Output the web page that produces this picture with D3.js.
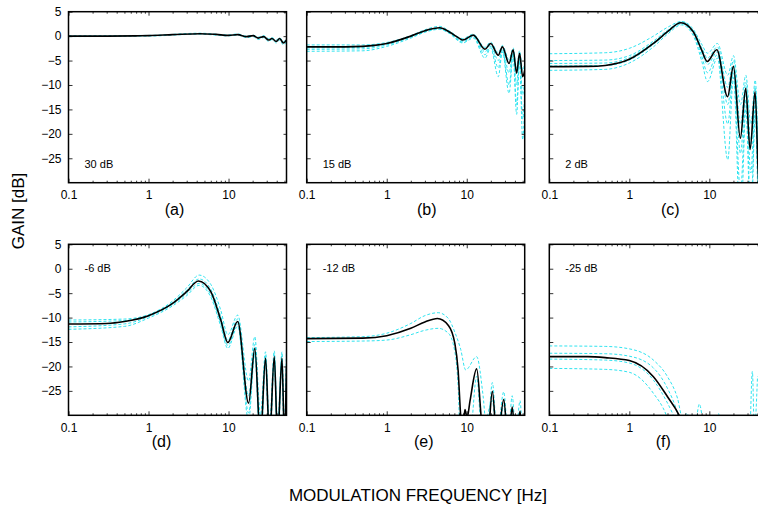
<!DOCTYPE html>
<html lang="en">
<head>
<meta charset="UTF-8">
<title>Modulation transfer gain</title>
<script src="https://cdn.jsdelivr.net/npm/d3@7"></script>
<style>
  body { margin: 0; background: #fff; }
  svg text { font-family: "Liberation Sans", Arial, sans-serif; fill: #000; }
</style>
</head>
<body>
<script>
// panel texts
var panelLabels = ["(a)", "(b)", "(c)", "(d)", "(e)", "(f)"];
var snrLabels = ["30 dB", "15 dB", "2 dB", "-6 dB", "-12 dB", "-25 dB"];
var yTicks = [5, 0, -5, -10, -15, -20, -25];
var xTicks = [0.1, 1, 10];

// black curve (mean) for each panel: [freq Hz, gain dB]
var meanA = [[0.1,0],[0.3,0],[0.7,0.05],[1,0.1],[2,0.3],[4.4,0.5],[7,0.35],[10,0.15],[13,0.3],[16.8,-0.1],[20.3,0.1],[23.5,-0.4],[27.5,-0.1],[31.7,-0.8],[34.8,-0.5],[39.5,-1.1],[43.5,-0.5],[48.5,-1.4],[53,-0.8]];
var meanB = [[0.1,-2.2],[0.3,-2.2],[0.5,-2.1],[0.7,-1.9],[1,-1.5],[2,0],[3,1.1],[4.6,1.7],[6,0.9],[8,-0.4],[8.9,-0.8],[12.1,0.2],[16.9,-2.7],[19.9,-1.5],[24.8,-3.9],[27.9,-2.2],[33.8,-5.6],[38,-2.8],[42,-7.6],[45.7,-3.5],[50,-8.3],[53,-7]];
var meanC = [[0.1,-6.25],[0.3,-6.2],[0.5,-6.0],[1,-4.75],[2,-1.5],[3,0.9],[4.4,2.75],[6.3,0.9],[8,-2.8],[9.4,-5.2],[12.4,-2.8],[16.9,-12.4],[20,-6.2],[24.4,-20.9],[28.5,-10.7],[32.3,-23.2],[37.3,-11.4],[42,-32],[46,-14],[50,-35],[53,-20]];
var meanD = [[0.1,-11.3],[0.3,-11.2],[0.5,-10.8],[1,-9.6],[2,-7.1],[3,-4.7],[4.2,-2.5],[6,-4.7],[8,-10.5],[9.8,-15.1],[13,-10.8],[17.8,-27.5],[21.3,-16.3],[25,-35],[29,-18.3],[32.5,-35],[37.3,-18],[41,-35],[46.5,-18.3],[50,-35],[53,-20]];
var meanE = [[0.1,-14.3],[0.5,-14.2],[1,-13.7],[2,-12.2],[3,-10.9],[4.3,-10.2],[5.9,-11.6],[7.1,-15.3],[7.8,-20.8],[8.4,-30],[8.9,-33],[9.5,-28.8],[10.1,-30.5],[11,-27],[13.3,-20.5],[15.7,-33],[18,-36],[20.9,-25.1],[24,-36],[29,-26.8],[33,-36],[37,-28.3],[41,-36],[46.4,-29.2],[50,-36],[53,-32]];
var meanF = [[0.1,-18],[0.3,-18],[0.5,-18.2],[1,-18.8],[2,-22.1],[3,-26.2],[4.2,-30],[5,-33]];

// cyan dashed curves (individual runs) for each panel
var runsA = [
  [[0.1,0.1],[1,0.15],[4.4,0.6],[10,0.25],[13,0.45],[16.8,0],[20.3,0.2],[23.5,-0.2],[27.5,0.1],[31.7,-0.5],[34.8,-0.3],[39.5,-0.8],[43.5,-0.3],[48.5,-1.1],[53,-0.6]],
  [[0.1,-0.1],[1,0],[4.4,0.4],[10,0.05],[13,0.2],[16.8,-0.3],[20.3,-0.1],[23.5,-0.7],[27.5,-0.3],[31.7,-1.1],[34.8,-0.7],[39.5,-1.4],[43.5,-0.8],[48.5,-1.8],[53,-1.1]]
];
var runsB = [
  [[0.1,-1.8],[0.5,-1.8],[1,-1.3],[2,0.1],[3,1.3],[4.6,2.0],[6,1.1],[8.9,-0.5],[12.1,0.4],[16.9,-2.3],[19.9,-1.2],[24.8,-3.4],[27.9,-1.9],[33.8,-4.8],[38,-2.4],[42,-6.5],[45.7,-3],[50,-7],[53,-5.5]],
  [[0.1,-2.4],[0.5,-2.3],[1,-1.6],[2,-0.1],[3,1.0],[4.6,1.6],[6,0.8],[8.9,-1.0],[12.1,0],[16.9,-3.2],[19.9,-1.8],[24.8,-5],[27.9,-2.6],[33.8,-7.5],[38,-3.3],[42,-10],[45.7,-4.2],[50,-12],[53,-9]],
  [[0.1,-2.7],[0.5,-2.6],[1,-1.8],[2,-0.2],[3,0.9],[4.6,1.5],[6,0.7],[8.9,-1.2],[12.1,-0.2],[16.9,-3.8],[19.9,-2.1],[24.8,-6.5],[27.9,-2.9],[33.8,-10],[38,-3.6],[42,-14],[45.7,-4.6],[50,-17],[53,-12]],
  [[0.1,-3.1],[0.5,-3.0],[1,-2.1],[2,-0.4],[3,0.8],[4.6,1.4],[6,0.6],[8.9,-1.4],[12.1,-0.4],[16.9,-4.5],[19.9,-2.4],[24.8,-8.3],[27.9,-3.2],[33.8,-11.7],[38,-4],[42,-16],[45.7,-5],[50,-21.2],[53,-14]]
];
var runsC = [
  [[0.1,-3.6],[0.5,-3.4],[1,-2.5],[2,0],[3,1.8],[4.5,3.0],[6.3,1.4],[8,-1.6],[9.5,-3.5],[12.6,-1.5],[17,-8],[20,-4],[24.5,-14],[28.6,-8],[33,-18],[37.5,-9],[42,-26],[46,-12],[53,-20]],
  [[0.1,-5.0],[0.5,-4.9],[1,-4],[2,-1.0],[3,1.2],[4.5,2.9],[6.3,1.1],[8,-2.3],[9.5,-4.5],[12.6,-2.2],[17,-10.5],[20,-5],[24.5,-18],[28.6,-9.5],[33,-22],[37.5,-10.5],[42,-30],[46,-13],[53,-25]],
  [[0.1,-5.6],[0.5,-5.5],[1,-4.4],[2,-1.3],[3,1.0],[4.5,2.7],[6.3,0.8],[8,-3.2],[9.5,-5.8],[12.6,-3.2],[17,-14],[20,-6.5],[24.5,-24],[28.6,-11.5],[33,-28],[37.5,-12],[42,-34],[46,-15],[53,-30]],
  [[0.1,-6.1],[0.5,-6.0],[1,-4.9],[2,-1.7],[3,0.7],[4.5,2.5],[6.3,0.5],[8,-4],[9.5,-7.5],[12.6,-3.8],[17,-18],[20,-7.5],[24.5,-32],[28.6,-13],[33,-36],[37.5,-14],[42,-38],[46,-17],[53,-34]],
  [[0.1,-7.0],[0.5,-6.8],[1,-5.5],[2,-2.2],[3,0.4],[4.5,2.3],[6.3,0.1],[8,-5],[9.5,-9.3],[12.6,-4.5],[17,-25.3],[20,-8.5],[24.5,-40],[28.6,-15],[33,-40],[37.5,-16],[42,-40],[46,-19],[53,-38]]
];
var runsD = [
  [[0.1,-10.5],[0.5,-10.3],[1,-9.4],[2,-6.6],[3,-3.9],[4.3,-1.3],[6,-3.2],[8,-8.5],[9.8,-13.5],[13,-9.5],[17.8,-23],[21.3,-13.9],[25,-30],[29,-17],[32.5,-32],[37.3,-16.8],[41,-32],[46.5,-17],[50,-32],[53,-16]],
  [[0.1,-10.9],[0.5,-10.6],[1,-9.5],[2,-6.9],[3,-4.4],[4.3,-2.1],[6,-4.2],[8,-9.8],[9.8,-14.6],[13,-10.3],[17.8,-26],[21.3,-15.5],[25,-34],[29,-17.8],[32.5,-34],[37.3,-17.6],[41,-34],[46.5,-17.8],[50,-34],[53,-18]],
  [[0.1,-11.9],[0.5,-11.3],[1,-9.8],[2,-7.3],[3,-5.1],[4.3,-3.0],[6,-5.3],[8,-11.2],[9.8,-15.7],[13,-11.3],[17.8,-29.5],[21.3,-16.8],[25,-36],[29,-18.8],[32.5,-36],[37.3,-18.5],[41,-36],[46.5,-18.8],[50,-36],[53,-21]],
  [[0.1,-12.4],[0.5,-11.8],[1,-10.1],[2,-7.6],[3,-5.5],[4.3,-3.4],[6,-5.8],[8,-11.8],[9.8,-16.3],[13,-11.8],[17.8,-31],[21.3,-17.5],[25,-38],[29,-19.5],[32.5,-38],[37.3,-19.2],[41,-38],[46.5,-19.5],[50,-38],[53,-22]]
];
var runsE = [
  [[0.1,-14.1],[0.5,-13.9],[1,-13.2],[2,-11.2],[3,-9.6],[4.4,-9.0],[5.9,-10.2],[7.1,-13],[8.4,-16.5],[9.7,-20.7],[13.3,-18],[16,-26],[18,-34],[20.9,-23.3],[24,-34],[29,-25.2],[33,-34],[37,-26],[41,-34],[46.4,-27],[50,-34],[53,-28]],
  [[0.1,-14.9],[0.5,-14.8],[1,-14.6],[2,-13.5],[3,-12.6],[4.4,-12.2],[5.9,-13.2],[7.1,-17],[7.8,-24],[8.3,-34],[11,-34],[13.3,-22],[15.5,-34],[20.9,-27],[24,-36],[29,-28],[33,-36],[37,-29.5],[41,-36],[46.4,-30.5],[53,-36]]
];
var runsF = [
  [[0.1,-15.8],[0.5,-15.9],[1,-16.4],[2,-18.7],[3,-22.1],[4,-26.5],[4.7,-31],[5.2,-29.6],[5.8,-31],[6.5,-33],[7.5,-27.7],[8.6,-32],[12,-33],[13,-29.6],[14,-33],[31.5,-36],[34.5,-21],[36.5,-33],[40,-22]],
  [[0.1,-17.3],[0.5,-17.4],[1,-17.9],[2,-20.3],[3,-24.5],[4,-29.5],[4.4,-32]],
  [[0.1,-18.5],[0.5,-18.7],[1,-19.3],[2,-22.8],[3,-27.5],[3.8,-31]],
  [[0.1,-20.4],[0.5,-20.6],[1,-21.2],[2,-25.5],[2.9,-30],[3.2,-32]]
];

var means = [meanA, meanB, meanC, meanD, meanE, meanF];
var runs = [runsA, runsB, runsC, runsD, runsE, runsF];

var width = 758, height = 508;
var colLeft = [68.5, 306.7, 549.3];
var rowTop = [11.7, 244.3];
var pw = 218, ph = 171;
var labelX = [106, 120, 121, 93, 117, 114]; // (a)..(f) offsets from panel left

var svg = d3.select("body").append("svg")
    .attr("width", width)
    .attr("height", height);

svg.append("rect").attr("width", width).attr("height", height).attr("fill", "#fff");

function fmt(d) { return d < 0 ? "\u2212" + (-d) : String(d); }

panelLabels.forEach(function(lab, i) {
    var col = i % 3, row = Math.floor(i / 3);
    var left = colLeft[col], top = rowTop[row];

    var x = d3.scaleLog().domain([0.1, 53]).range([left, left + pw]);
    var y = d3.scaleLinear().domain([-30, 5]).range([top + ph, top]);

    var g = svg.append("g");
    var clipId = "clip" + i;
    g.append("clipPath").attr("id", clipId)
      .append("rect").attr("x", left).attr("y", top).attr("width", pw).attr("height", ph);

    var line = d3.line()
        .x(function(d) { return x(d[0]); })
        .y(function(d) { return y(d[1]); })
        .curve(d3.curveMonotoneX);

    var plot = g.append("g").attr("clip-path", "url(#" + clipId + ")");
    plot.selectAll("path.run")
        .data(runs[i])
        .enter().append("path")
        .attr("class", "run")
        .attr("d", line)
        .attr("fill", "none")
        .attr("stroke", "#2fe3ef")
        .attr("stroke-width", 1)
        .attr("stroke-dasharray", "3,2");
    plot.append("path")
        .attr("d", line(means[i]))
        .attr("fill", "none")
        .attr("stroke", "#000")
        .attr("stroke-width", 1.6);

    // minor log ticks
    var minor = x.ticks().filter(function(t) { return xTicks.indexOf(t) < 0; });

    var axB = g.append("g").attr("transform", "translate(0," + (top + ph) + ")")
        .call(d3.axisBottom(x).tickValues(xTicks).tickSize(-4).tickPadding(8).tickFormat(function(d) { return d; }));
    g.append("g").attr("transform", "translate(0," + (top + ph) + ")")
        .call(d3.axisBottom(x).tickValues(minor).tickSize(-2).tickFormat(""));
    g.append("g").attr("transform", "translate(0," + top + ")")
        .call(d3.axisTop(x).tickValues(xTicks).tickSize(-4).tickFormat(""));
    g.append("g").attr("transform", "translate(0," + top + ")")
        .call(d3.axisTop(x).tickValues(minor).tickSize(-2).tickFormat(""));
    g.append("g").attr("transform", "translate(" + left + ",0)")
        .call(d3.axisLeft(y).tickValues(yTicks).tickSize(-4).tickPadding(7)
            .tickFormat(col === 0 ? fmt : function() { return ""; }));
    g.append("g").attr("transform", "translate(" + (left + pw) + ",0)")
        .call(d3.axisRight(y).tickValues(yTicks).tickSize(-3).tickFormat(""));

    g.selectAll(".domain").remove();
    g.selectAll(".tick line").attr("stroke", "#000").attr("stroke-width", 0.8);
    g.selectAll(".tick text").attr("font-size", "12px")
        .attr("font-family", "Liberation Sans, Arial, sans-serif");

    g.append("rect")
        .attr("x", left).attr("y", top).attr("width", pw).attr("height", ph)
        .attr("fill", "none").attr("stroke", "#000").attr("stroke-width", 1.5);

    g.append("text")
        .attr("x", left + 16)
        .attr("y", row === 0 ? top + ph - 15 : top + 28)
        .attr("font-size", "11px")
        .text(snrLabels[i]);

    g.append("text")
        .attr("x", left + labelX[i])
        .attr("y", top + ph + 32)
        .attr("text-anchor", "middle")
        .attr("font-size", "16px")
        .text(lab);
});

svg.append("text")
    .attr("x", 418).attr("y", 501)
    .attr("text-anchor", "middle")
    .attr("font-size", "17px")
    .text("MODULATION FREQUENCY [Hz]");

svg.append("text")
    .attr("transform", "translate(24,211) rotate(-90)")
    .attr("text-anchor", "middle")
    .attr("font-size", "17px")
    .text("GAIN [dB]");
</script>
</body>
</html>
